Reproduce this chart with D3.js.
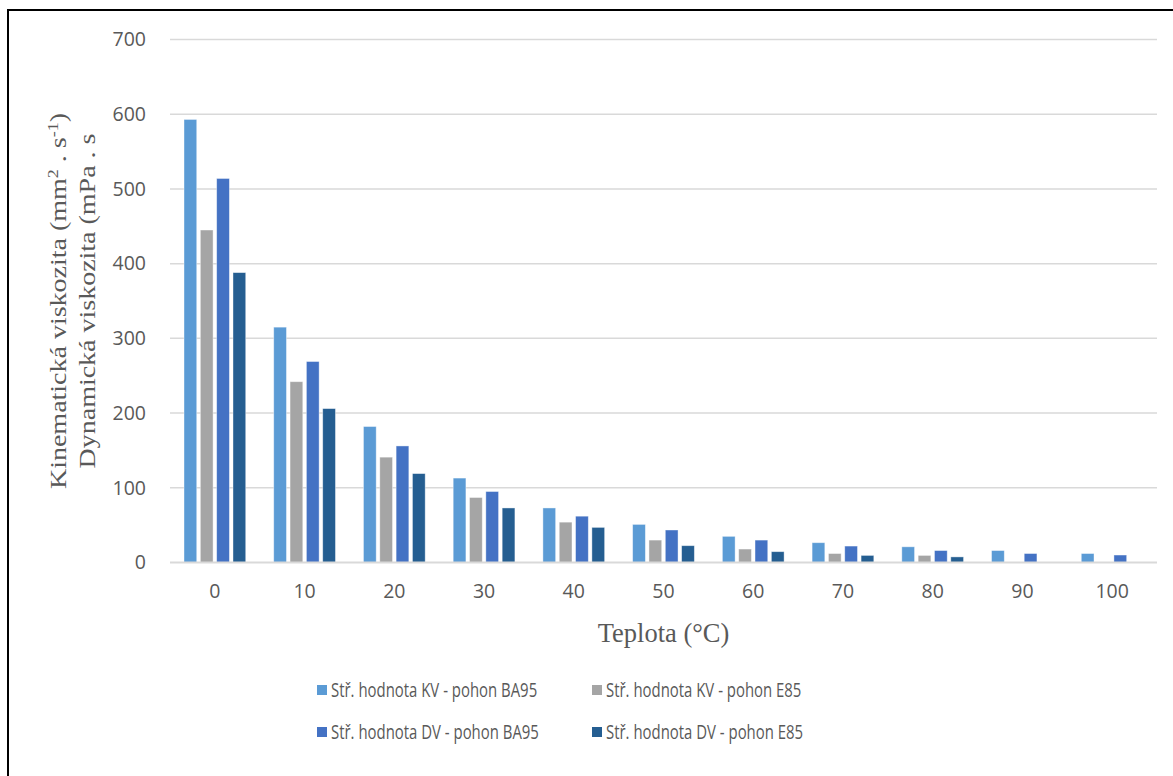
<!DOCTYPE html>
<html>
<head>
<meta charset="utf-8">
<script src="https://cdn.jsdelivr.net/npm/d3@7"></script>
<style>
  html, body { margin: 0; padding: 0; background: #fff; }
  svg { display: block; }
</style>
</head>
<body>
<svg id="chart" width="1173" height="776"></svg>
<script>
// Temperatures (°C) on the category axis
const temperatures = ["0", "10", "20", "30", "40", "50", "60", "70", "80", "90", "100"];

// Mean viscosity values per temperature (null = not measured)
const kvBA95 = [593, 315, 182, 113, 73, 51, 35, 26.5, 21, 16, 12];
const kvE85  = [445, 242, 141, 87, 54, 30, 18, 12, 9.5, null, null];
const dvBA95 = [514, 269, 156, 95, 62, 43.5, 30, 22, 16, 12, 10];
const dvE85  = [388, 206, 119, 73, 47, 22.5, 14.5, 9.5, 7.5, null, null];

const seriesNames = [
  "Stř. hodnota KV - pohon BA95",
  "Stř. hodnota KV - pohon E85",
  "Stř. hodnota DV - pohon BA95",
  "Stř. hodnota DV - pohon E85"
];
const seriesColors = ["#5b9bd5", "#a5a5a5", "#4472c4", "#255e91"];
const seriesValues = [kvBA95, kvE85, dvBA95, dvE85];

const yTicks = [0, 100, 200, 300, 400, 500, 600, 700];

const svg = d3.select("#chart");
const plot = { left: 170, right: 1157, top: 39.5, bottom: 562.5 };
const sansFont = "'Open Sans', sans-serif";
const serifFont = "'Liberation Serif', 'Times New Roman', serif";

// Outer frame (left and top edges fall inside the page)
svg.append("rect")
  .attr("x", 8).attr("y", 10)
  .attr("width", 1180).attr("height", 800)
  .attr("fill", "none").attr("stroke", "#000").attr("stroke-width", 2);

const x0 = d3.scaleBand()
  .domain(temperatures)
  .range([plot.left, plot.right])
  .paddingInner(0.272)
  .paddingOuter(0.136);

const x1 = d3.scaleBand()
  .domain(d3.range(seriesNames.length))
  .range([0, x0.bandwidth()])
  .paddingInner(0.22)
  .paddingOuter(0.11);

const y = d3.scaleLinear().domain([0, 700]).range([plot.bottom, plot.top]);

// Horizontal gridlines
svg.append("g")
  .selectAll("line")
  .data(yTicks.filter(d => d > 0))
  .join("line")
  .attr("x1", plot.left).attr("x2", plot.right)
  .attr("y1", d => y(d)).attr("y2", d => y(d))
  .attr("stroke", "#d9d9d9").attr("stroke-width", 1.5);

// Y axis tick labels
const yAxis = d3.axisLeft(y).tickValues(yTicks).tickSize(0).tickPadding(24);
const gy = svg.append("g").attr("transform", `translate(${plot.left},0)`).call(yAxis);
gy.select(".domain").remove();
gy.selectAll("text")
  .attr("fill", "#595959")
  .style("font-family", sansFont)
  .style("font-size", "19.5px");

// Bars
const rows = temperatures.map((t, i) => ({ t, vals: seriesValues.map(s => s[i]) }));
svg.append("g")
  .selectAll("g")
  .data(rows)
  .join("g")
  .attr("transform", d => `translate(${x0(d.t)},0)`)
  .selectAll("rect")
  .data(d => d.vals.map((v, k) => ({ v, k })).filter(e => e.v != null))
  .join("rect")
  .attr("x", e => x1(e.k))
  .attr("width", x1.bandwidth())
  .attr("y", e => y(e.v))
  .attr("height", e => y(0) - y(e.v))
  .attr("fill", e => seriesColors[e.k])
  .attr("stroke", "#ffffff").attr("stroke-opacity", 0.5).attr("stroke-width", 0.8);

// Baseline
svg.append("line")
  .attr("x1", plot.left).attr("x2", plot.right)
  .attr("y1", y(0)).attr("y2", y(0))
  .attr("stroke", "#d9d9d9").attr("stroke-width", 2);

// X axis labels
const xAxis = d3.axisBottom(x0).tickSize(0).tickPadding(22);
const gx = svg.append("g").attr("transform", `translate(0,${plot.bottom})`).call(xAxis);
gx.select(".domain").remove();
gx.selectAll("text")
  .attr("fill", "#595959")
  .style("font-family", sansFont)
  .style("font-size", "19.5px");

// Axis titles
svg.append("text")
  .attr("x", (plot.left + plot.right) / 2).attr("y", 642)
  .attr("text-anchor", "middle")
  .attr("fill", "#595959")
  .style("font-family", serifFont)
  .style("font-size", "26.5px")
  .text("Teplota (°C)");

const yTitle = svg.append("text")
  .attr("transform", "translate(0,301) rotate(-90) scale(1,0.84)")
  .attr("text-anchor", "middle")
  .attr("fill", "#595959")
  .style("font-family", serifFont)
  .style("font-size", "28px");
const l1 = yTitle.append("tspan").attr("x", 0).attr("y", 78);
l1.append("tspan").text("Kinematická viskozita (mm");
l1.append("tspan").attr("dy", -9).style("font-size", "18px").text("2");
l1.append("tspan").attr("dy", 9).text(" . s");
l1.append("tspan").attr("dy", -9).style("font-size", "18px").text("-1");
l1.append("tspan").attr("dy", 9).text(")");
yTitle.append("tspan").attr("x", 0).attr("y", 113).text("Dynamická viskozita (mPa . s");

// Legend, two columns by two rows
const legendPos = [[317, 690], [592, 690], [317, 732], [592, 732]];
const lg = svg.append("g")
  .selectAll("g")
  .data(seriesNames)
  .join("g")
  .attr("transform", (d, i) => `translate(${legendPos[i][0]},${legendPos[i][1]})`);
lg.append("rect")
  .attr("x", 0).attr("y", -5).attr("width", 10).attr("height", 10)
  .attr("fill", (d, i) => seriesColors[i]);
lg.append("text")
  .attr("transform", "translate(14,0) scale(0.765,1)")
  .attr("dy", "0.35em")
  .attr("fill", "#595959")
  .style("font-family", sansFont)
  .style("font-size", "19.5px")
  .text(d => d);
</script>
</body>
</html>
